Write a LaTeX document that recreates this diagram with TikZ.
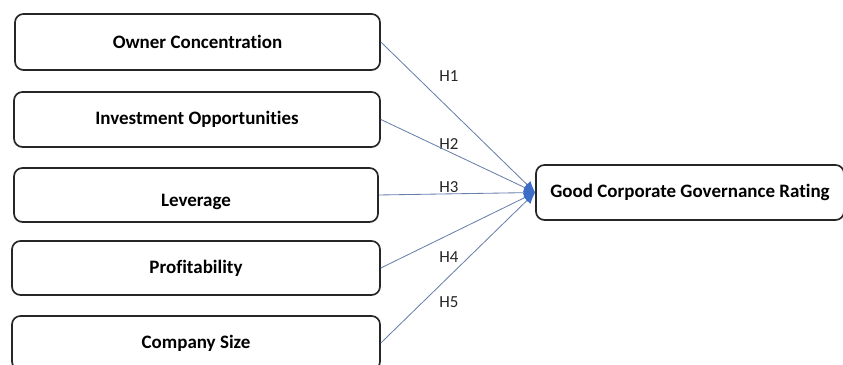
\documentclass[tikz,border=0pt]{standalone}
\usepackage{fontspec}
\setmainfont[Ligatures=NoCommon]{Carlito}
\usetikzlibrary{arrows.meta, positioning}
\definecolor{linkgray}{RGB}{105,128,170}
\definecolor{tipblue}{RGB}{60,110,200}

\begin{document}
\begin{tikzpicture}[
  x=0.025cm, y=-0.025cm,
  box/.style={rounded corners=6pt, draw=black!85, line width=1.2pt, fill=white,
              align=center, inner sep=0pt, font=\bfseries\fontsize{13.5}{16}\selectfont},
  lbl/.style={font=\fontsize{12}{14}\selectfont, text=black!85, inner sep=0pt},
  link/.style={-{Latex[length=8pt, width=7pt, color=tipblue]}, draw=linkgray, line width=0.6pt}
]
\useasboundingbox (0,0) rectangle (843,365);

\node[box, minimum width=365*0.025cm, minimum height=56*0.025cm] (own) at (197.5,42) {Owner Concentration};
\node[box, minimum width=366*0.025cm, minimum height=55*0.025cm] (inv) at (197,119.5) {Investment Opportunities};
\node[box, minimum width=364*0.025cm, minimum height=54*0.025cm] (lev) at (196,195) {\raisebox{-8pt}[0pt][0pt]{Leverage}};
\node[box, minimum width=368*0.025cm, minimum height=54*0.025cm] (pro) at (196,268) {Profitability};
\node[box, minimum width=368*0.025cm, minimum height=54*0.025cm] (siz) at (196,343) {Company Size};
\node[box, minimum width=308*0.025cm, minimum height=55*0.025cm] (gcg) at (690,192.5) {Good Corporate Governance Rating};

% hypothesis labels
\node[lbl] (h1) at (449,76) {H1};
\node[lbl] (h2) at (449,144) {H2};
\node[lbl] (h3) at (449,187) {H3};
\node[lbl] (h4) at (449,257) {H4};
\node[lbl] (h5) at (449,302) {H5};

\draw[link] (own.east) -- (gcg.west);
\draw[link] (inv.east) -- (gcg.west);
\draw[link] (lev.east) -- (gcg.west);
\draw[link] (pro.east) -- (gcg.west);
\draw[link] (siz.east) -- (gcg.west);
\end{tikzpicture}
\end{document}
